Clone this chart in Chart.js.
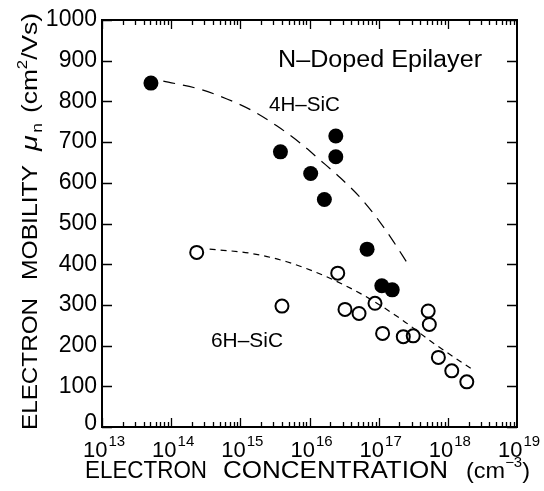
<!DOCTYPE html>
<html>
<head>
<meta charset="utf-8">
<script src="https://cdn.jsdelivr.net/npm/chart.js@4.4.1/dist/chart.umd.min.js"></script>
<style>
  html, body { margin: 0; padding: 0; background: #fff; }
  canvas { display: block; }
</style>
</head>
<body>
<canvas id="myChart" width="544" height="491"></canvas>
<script>
// 4H-SiC measured points (filled circles)
const conc4H = [5.1e13, 3.8e15, 2.4e16, 2.4e16, 1.04e16, 1.64e16, 6.8e16, 1.11e17, 1.57e17];
const mob4H = [845, 676, 715, 664, 623, 559, 437, 347, 337];

// 6H-SiC measured points (open circles)
const conc6H = [2.34e14, 4.0e15, 2.56e16, 3.26e16, 5.2e16, 8.85e16, 1.14e17, 2.27e17, 3.16e17, 5.2e17, 5.4e17, 7.3e17, 1.14e18, 1.88e18];
const mob6H = [429, 297, 378, 289, 279, 304, 230, 222, 224, 285, 252, 171, 138, 111];

// dashed guide curves
const fit4HConc = [7.7e13, 2.6e14, 6.4e14, 1.46e15, 3.36e15, 7.3e15, 1.42e16, 2.76e16, 5.4e16, 1.05e17, 1.63e17, 2.54e17];
const fit4HMob = [850, 830, 806, 778, 740, 698, 656, 613, 564, 503, 456, 405];
const fit6HConc = [3.6e14, 1.38e15, 4.7e15, 1.77e16, 6.0e16, 2.03e17, 6.2e17, 2.33e18];
const fit6HMob = [437, 427, 406, 369, 324, 267, 206, 140];

// axis ticks
const xTickExps = [13, 14, 15, 16, 17, 18, 19];
const yTicks = [0, 100, 200, 300, 400, 500, 600, 700, 800, 900, 1000];

const FONT = '"Liberation Sans", Arial, Helvetica, sans-serif';

const toPoints = (xs, ys) => xs.map((x, i) => ({x: x, y: ys[i]}));

// draws a run of text pieces (with sub/superscripts), optionally stretched to a width
function drawRich(ctx, parts, x, y, width) {
  let total = 0;
  parts.forEach(p => {
    ctx.font = (p.italic ? 'italic ' : '') + p.size + 'px ' + FONT;
    p.w = ctx.measureText(p.t).width;
    total += p.w + (p.gap || 0);
  });
  const k = width ? width / total : 1;
  ctx.save();
  ctx.translate(x, y);
  ctx.scale(k, 1);
  let cx = 0;
  parts.forEach(p => {
    ctx.font = (p.italic ? 'italic ' : '') + p.size + 'px ' + FONT;
    ctx.fillText(p.t, cx, p.dy || 0);
    cx += p.w + (p.gap || 0);
  });
  ctx.restore();
}

const framePlugin = {
  id: 'frame',
  afterDraw(chart) {
    const {ctx, chartArea: a, scales: {x, y}} = chart;
    ctx.save();
    ctx.strokeStyle = '#000';
    ctx.fillStyle = '#000';

    // box
    ctx.lineWidth = 2;
    ctx.strokeRect(a.left, a.top, a.right - a.left, a.bottom - a.top);

    // inward ticks
    ctx.lineWidth = 1.3;
    ctx.beginPath();
    for (let e = xTickExps[0]; e < xTickExps[xTickExps.length - 1]; e++) {
      for (let m = 1; m <= 9; m++) {
        const px = Math.round(x.getPixelForValue(m * Math.pow(10, e))) + 0.5;
        const len = m === 1 ? 9 : 5;
        ctx.moveTo(px, a.bottom); ctx.lineTo(px, a.bottom - len);
        ctx.moveTo(px, a.top); ctx.lineTo(px, a.top + len);
      }
    }
    yTicks.forEach(v => {
      const py = Math.round(y.getPixelForValue(v)) + 0.5;
      ctx.moveTo(a.left, py); ctx.lineTo(a.left + 10, py);
      ctx.moveTo(a.right, py); ctx.lineTo(a.right - 10, py);
    });
    ctx.stroke();

    // y tick labels
    ctx.font = '23px ' + FONT;
    ctx.textAlign = 'right';
    ctx.textBaseline = 'middle';
    yTicks.forEach(v => {
      const py = y.getPixelForValue(v);
      ctx.fillText(String(v), a.left - 5, v === 0 ? py - 3 : py);
    });

    // x tick labels 10^n
    ctx.textAlign = 'left';
    ctx.textBaseline = 'alphabetic';
    xTickExps.forEach(e => {
      const px = x.getPixelForValue(Math.pow(10, e));
      ctx.font = '22px ' + FONT;
      const wb = ctx.measureText('10').width;
      ctx.font = '15px ' + FONT;
      const we = ctx.measureText(String(e)).width;
      const start = px - (wb + we + 1) / 2 + 2;
      ctx.font = '22px ' + FONT;
      ctx.fillText('10', start, 457);
      ctx.font = '15px ' + FONT;
      ctx.fillText(String(e), start + wb + 1, 446);
    });

    // x axis title
    drawRich(ctx, [{t: 'ELECTRON', size: 23}], 85, 478, 122);
    drawRich(ctx, [{t: 'CONCENTRATION', size: 23}], 223, 478, 225);
    drawRich(ctx, [
      {t: '(cm', size: 22},
      {t: '\u22123', size: 14, dy: -11},
      {t: ')', size: 22}
    ], 466, 478, 64);

    // y axis title (rotated)
    const yTitle = (parts, start, len) => {
      ctx.save();
      ctx.translate(37, start);
      ctx.rotate(-Math.PI / 2);
      drawRich(ctx, parts, 0, 0, len);
      ctx.restore();
    };
    yTitle([{t: 'ELECTRON', size: 22}], 430, 132);
    yTitle([{t: 'MOBILITY', size: 22}], 280, 115);
    yTitle([{t: '\u03bc', size: 23, italic: true, gap: 2}, {t: 'n', size: 14, dy: 5}], 151, 28);
    yTitle([
      {t: '(cm', size: 22},
      {t: '2', size: 14, dy: -10},
      {t: '/Vs)', size: 22}
    ], 113, 100);

    // annotations
    drawRich(ctx, [{t: 'N\u2013Doped Epilayer', size: 23}], 278, 67, 204);
    drawRich(ctx, [{t: '4H\u2013SiC', size: 20}], 269, 111, 71);
    drawRich(ctx, [{t: '6H\u2013SiC', size: 20}], 211, 347, 72);

    ctx.restore();
  }
};

new Chart(document.getElementById('myChart'), {
  type: 'scatter',
  data: {
    datasets: [
      {
        label: '4H-SiC',
        data: toPoints(conc4H, mob4H),
        pointRadius: 7.5,
        pointBackgroundColor: '#000',
        pointBorderColor: '#000',
        pointBorderWidth: 0
      },
      {
        label: '6H-SiC',
        data: toPoints(conc6H, mob6H),
        pointRadius: 6.5,
        pointBackgroundColor: 'rgba(0,0,0,0)',
        pointBorderColor: '#000',
        pointBorderWidth: 2
      },
      {
        label: '4H fit',
        data: toPoints(fit4HConc, fit4HMob),
        showLine: true,
        pointRadius: 0,
        borderColor: '#000',
        borderWidth: 1.2,
        borderDash: [12, 8],
        cubicInterpolationMode: 'monotone'
      },
      {
        label: '6H fit',
        data: toPoints(fit6HConc, fit6HMob),
        showLine: true,
        pointRadius: 0,
        borderColor: '#000',
        borderWidth: 1.2,
        borderDash: [6, 5],
        cubicInterpolationMode: 'monotone'
      }
    ]
  },
  options: {
    responsive: false,
    animation: false,
    events: [],
    layout: {padding: {left: 102, right: 27, top: 20, bottom: 64}},
    plugins: {legend: {display: false}, tooltip: {enabled: false}},
    scales: {
      x: {type: 'logarithmic', min: 1e13, max: 1e19, display: false},
      y: {type: 'linear', min: 0, max: 1000, display: false}
    }
  },
  plugins: [framePlugin]
});
</script>
</body>
</html>
